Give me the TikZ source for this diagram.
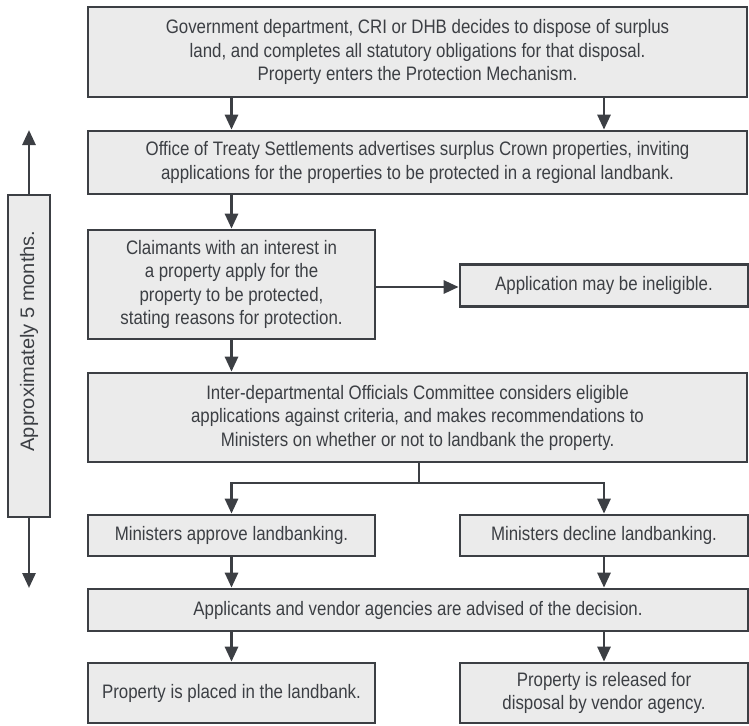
\documentclass[tikz,border=0pt]{standalone}
\usepackage{fontspec}
\setmainfont[FakeStretch=0.865]{Liberation Sans}
\newfontfamily\sidefont[FakeStretch=1.03]{Liberation Sans}
\usetikzlibrary{arrows.meta}
\definecolor{ink}{HTML}{3C3F44}
\definecolor{boxfill}{HTML}{EBEBEB}
\begin{document}
\begin{tikzpicture}[x=1pt,y=-1pt,
  box/.style={draw=ink, fill=boxfill, line width=2.7pt, inner sep=0pt, text=ink,
    font=\fontsize{19.5}{23.5}\selectfont, align=center},
  arr/.style={draw=ink, line width=2.8pt, -{Triangle[length=15pt,width=13pt]}},
  conn/.style={draw=ink, line width=2.8pt},
  lbl/.style={text=ink, font=\sidefont\fontsize{19.5}{23.5}\selectfont, inner sep=0pt}]
\useasboundingbox (0,0) rectangle (749,725);

\node[box, minimum width=659pt, minimum height=90pt] (top) at (417.5,52)
  {Government department, CRI or DHB decides to dispose of surplus\\
   land, and completes all statutory obligations for that disposal.\\
   Property enters the Protection Mechanism.};
\node[box, minimum width=659pt, minimum height=63pt] (ots) at (417.5,162.5)
  {Office of Treaty Settlements advertises surplus Crown properties, inviting\\
   applications for the properties to be protected in a regional landbank.};
\node[box, minimum width=287pt, minimum height=109pt] (claim) at (231.5,284.5)
  {Claimants with an interest in\\ a property apply for the\\
   property to be protected,\\ stating reasons for protection.};
\node[box, minimum width=288pt, minimum height=42pt] (inel) at (604,285.5)
  {Application may be ineligible.};
\node[box, minimum width=659pt, minimum height=89pt] (iocc) at (417.5,417.5)
  {Inter-departmental Officials Committee considers eligible\\
   applications against criteria, and makes recommendations to\\
   Ministers on whether or not to landbank the property.};
\node[box, minimum width=287pt, minimum height=41pt] (approve) at (231.5,535.5)
  {Ministers approve landbanking.};
\node[box, minimum width=288pt, minimum height=41pt] (decline) at (604,535.5)
  {Ministers decline landbanking.};
\node[box, minimum width=660pt, minimum height=42pt] (advised) at (418,610)
  {Applicants and vendor agencies are advised of the decision.};
\node[box, minimum width=287pt, minimum height=60pt] (placed) at (231.5,693)
  {Property is placed in the landbank.};
\node[box, minimum width=288pt, minimum height=60pt] (released) at (604,693)
  {Property is released for\\ disposal by vendor agency.};

\node[box, minimum width=42pt, minimum height=322pt] (side) at (29,356) {};
\node[lbl, rotate=90] (sidetext) at (29,341) {Approximately 5 months.};
\coordinate (uptip) at (29,130);
\coordinate (downtip) at (29,588);
\draw[arr] (side.north) -- (uptip);
\draw[arr] (side.south) -- (downtip);

\draw[arr] (top.south -| claim) -- (ots.north -| claim);
\draw[arr] (top.south -| inel) -- (ots.north -| inel);
\draw[arr] (ots.south -| claim) -- (claim.north);
\draw[arr] (claim.east |- 0,287) -- (inel.west |- 0,287);
\draw[arr] (claim.south) -- (iocc.north -| claim);
\coordinate (split) at (419,483);
\draw[conn] (iocc.south -| split) -- (split);
\draw[arr] (split) -| (approve.north);
\draw[arr] (split) -| (decline.north);
\draw[arr] (approve.south) -- (advised.north -| approve);
\draw[arr] (decline.south) -- (advised.north -| decline);
\draw[arr] (advised.south -| placed) -- (placed.north);
\draw[arr] (advised.south -| released) -- (released.north);
\end{tikzpicture}
\end{document}
